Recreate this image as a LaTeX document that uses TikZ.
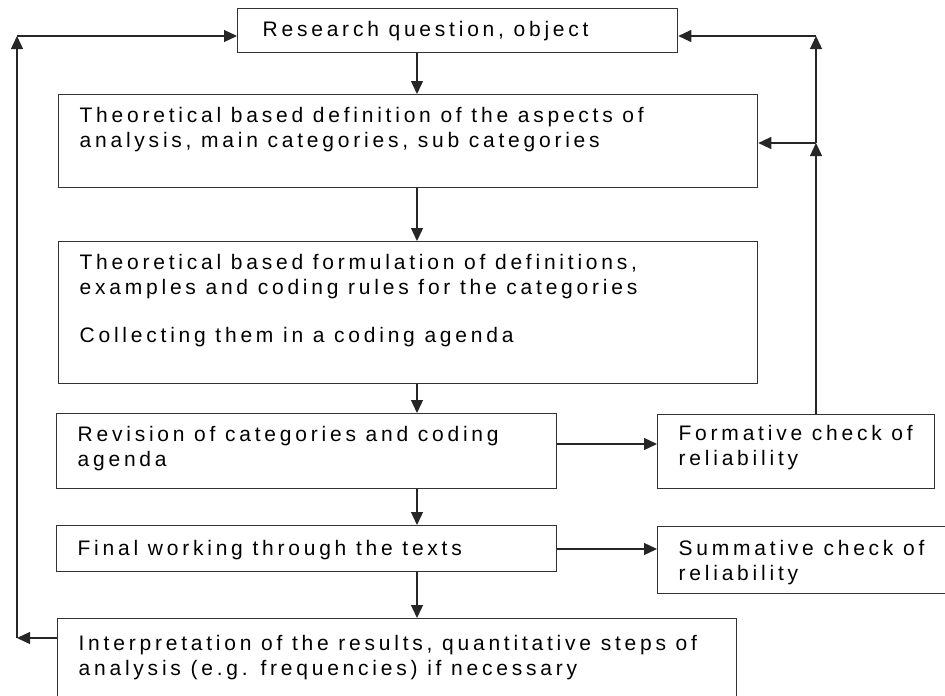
\documentclass[tikz,border=0pt]{standalone}
\usepackage{fontspec}
\setmainfont{Liberation Sans}[LetterSpace=18]
\usetikzlibrary{arrows.meta}
\newcommand{\stagetext}[4]{\parbox[t][#2][t]{#1}{\raggedright\rule{0pt}{#3}#4}}

\begin{document}
\begin{tikzpicture}[x=1pt,y=-1pt]
\tikzstyle{stage}=[draw=black!80,line width=1.3pt,anchor=north west,inner xsep=21pt,inner ysep=0pt,font=\fontsize{21}{25}\selectfont]
\tikzstyle{link}=[draw=black!85,line width=1.3pt,-{Triangle[length=13pt,width=12pt]}]
\clip (0,0) rectangle (945,696);
\node[stage,inner xsep=25pt] (1) at (237,8) {\stagetext{390pt}{44pt}{28pt}{Research question, object}};
\node[stage] (2) at (58,94) {\stagetext{657pt}{93pt}{28pt}{Theoretical based definition of the aspects of\\ analysis, main categories, sub categories}};
\node[stage] (3) at (58,241) {\stagetext{657pt}{142pt}{28pt}{Theoretical based formulation of definitions,\\ examples and coding rules for the categories\\[23pt] Collecting them in a coding agenda}};
\node[stage] (4) at (56,413) {\stagetext{458pt}{75pt}{28pt}{Revision of categories and coding\\ agenda}};
\node[stage] (5) at (657,414) {\stagetext{235pt}{74pt}{26pt}{\mbox{Formative check of}\\ reliability}};
\node[stage] (6) at (56,525) {\stagetext{458pt}{46pt}{30pt}{Final working through the texts}};
\node[stage] (7) at (657,526) {\stagetext{278pt}{67pt}{29pt}{\mbox{Summative check of}\\ reliability}};
\node[stage] (8) at (57,618) {\stagetext{637pt}{100pt}{32pt}{Interpretation of the results, quantitative steps of\\ analysis (e.g. frequencies) if necessary}};
\coordinate (m) at (417,0);
\coordinate (rt) at (816,36);
\coordinate (rm) at (816,143);
\coordinate (lt) at (17,36);
\coordinate (lb) at (17,638);
\draw[link] (m |- 1.south) -- (m |- 2.north);
\draw[link] (m |- 2.south) -- (m |- 3.north);
\draw[link] (m |- 3.south) -- (m |- 4.north);
\draw[link] (m |- 4.south) -- (m |- 6.north);
\draw[link] (m |- 6.south) -- (m |- 8.north);
\draw[link] (4.east |- 0,444) -- (5.west |- 0,444);
\draw[link] (6.east |- 0,549) -- (7.west |- 0,549);
\draw[link] (rm |- 5.north) -- (rm);
\draw[link] (rm) -- (rt);
\draw[link] (rt) -- (rt -| 1.east);
\draw[link] (rm) -- (rm -| 2.east);
\draw[link] (lb -| 8.west) -- (lb);
\draw[link] (lb) -- (lt);
\draw[link] (lt) -- (lt -| 1.west);
\end{tikzpicture}
\end{document}
